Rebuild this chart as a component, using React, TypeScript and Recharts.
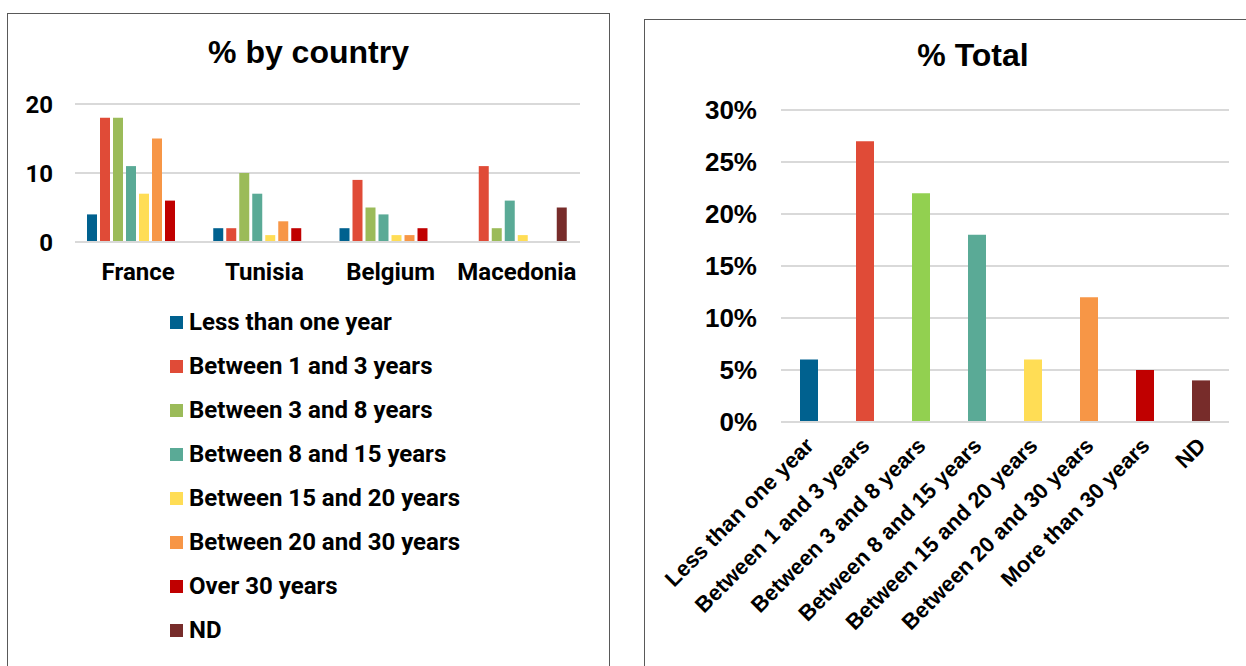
import { BarChart, Bar, XAxis, YAxis, CartesianGrid, Legend, Cell } from 'recharts'

// % by country
const countries = ['France', 'Tunisia', 'Belgium', 'Macedonia']
const lessThanOne = [4, 2, 2, 0]
const between1and3 = [18, 2, 9, 11]
const between3and8 = [18, 10, 5, 2]
const between8and15 = [11, 7, 4, 6]
const between15and20 = [7, 1, 1, 1]
const between20and30 = [15, 3, 1, 0]
const over30 = [6, 2, 2, 0]
const nd = [0, 0, 0, 5]

const seriesNames = [
  'Less than one year',
  'Between 1 and 3 years',
  'Between 3 and 8 years',
  'Between 8 and 15 years',
  'Between 15 and 20 years',
  'Between 20 and 30 years',
  'Over 30 years',
  'ND',
]
const seriesValues = [
  lessThanOne,
  between1and3,
  between3and8,
  between8and15,
  between15and20,
  between20and30,
  over30,
  nd,
]
const countryColors = ['#00618F', '#E04B37', '#9BBB59', '#5AAA96', '#FFDD55', '#F79646', '#C00000', '#772C2A']
const countryTicks = [0, 10, 20]

// % Total
const totalCategories = [
  'Less than one year',
  'Between 1 and 3 years',
  'Between 3 and 8 years',
  'Between 8 and 15 years',
  'Between 15 and 20 years',
  'Between 20 and 30 years',
  'More than 30 years',
  'ND',
]
const totalValues = [6, 27, 22, 18, 6, 12, 5, 4]
const totalColors = ['#00618F', '#E04B37', '#92D050', '#5AAA96', '#FFDD55', '#F79646', '#C00000', '#772C2A']
const totalTicks = [0, 5, 10, 15, 20, 25, 30]

const countryData = countries.map((c, i) => {
  const row: { [key: string]: string | number } = { country: c }
  seriesNames.forEach((name, s) => {
    row[name] = seriesValues[s][i]
  })
  return row
})

const totalData = totalCategories.map((c, i) => ({ name: c, value: totalValues[i] }))

const ROBOTO = 'Roboto, sans-serif'
const ARIAL = '"Liberation Sans", Arial, sans-serif'

function CountryLegend({ payload }: any) {
  // keep the series order, not the alphabetical one
  const items = [...(payload || [])].sort(
    (a: any, b: any) => seriesNames.indexOf(a.value) - seriesNames.indexOf(b.value)
  )
  return (
    <div style={{ fontFamily: ROBOTO, fontWeight: 700, fontSize: 24, color: '#000' }}>
      {items.map((item: any) => (
        <div key={item.value} style={{ display: 'flex', alignItems: 'center', height: 44 }}>
          <span style={{ width: 13, height: 13, background: item.color, marginRight: 6, display: 'inline-block' }} />
          <span>{item.value}</span>
        </div>
      ))}
    </div>
  )
}

function RotatedTick({ x, y, payload }: any) {
  const tx = x + 6
  const ty = y + 17
  return (
    <text
      x={tx}
      y={ty}
      transform={`rotate(-45, ${tx}, ${ty})`}
      textAnchor="end"
      fontFamily={ARIAL}
      fontWeight={700}
      fontSize={22}
      fill="#000"
    >
      {payload.value}
    </text>
  )
}

export default function App() {
  return (
    <div style={{ position: 'absolute', left: 0, top: 0, width: 1246, height: 666, overflow: 'hidden', background: '#fff' }}>
      <div
        style={{
          position: 'absolute',
          left: 7,
          top: 13,
          width: 601,
          height: 670,
          border: '1px solid #595959',
        }}
      >
        <div
          style={{
            position: 'absolute',
            left: 0,
            width: 601,
            top: 20,
            textAlign: 'center',
            fontFamily: ARIAL,
            fontWeight: 700,
            fontSize: 32,
          }}
        >
          % by country
        </div>
        <BarChart
          width={601}
          height={653}
          data={countryData}
          margin={{ top: 90, right: 29, left: 0, bottom: 395 }}
          barCategoryGap={12}
          barGap={3}
        >
          <CartesianGrid vertical={false} stroke="#D9D9D9" strokeWidth={2} />
          <XAxis
            dataKey="country"
            axisLine={{ stroke: '#D9D9D9', strokeWidth: 2 }}
            tickLine={false}
            tickSize={0}
            tickMargin={21}
            tick={{ fontFamily: ROBOTO, fontWeight: 700, fontSize: 24, fill: '#000' }}
          />
          <YAxis
            width={67}
            domain={[0, 20]}
            ticks={countryTicks}
            axisLine={false}
            tickLine={false}
            tickSize={0}
            tickMargin={22}
            tick={{ fontFamily: ROBOTO, fontWeight: 700, fontSize: 24, fill: '#000' }}
          />
          <Legend
            layout="vertical"
            align="center"
            verticalAlign="middle"
            wrapperStyle={{ top: 286, left: 162, width: 360 }}
            content={<CountryLegend />}
          />
          {seriesNames.map((name, i) => (
            <Bar key={name} dataKey={name} name={name} fill={countryColors[i]} isAnimationActive={false} />
          ))}
        </BarChart>
      </div>

      <div
        style={{
          position: 'absolute',
          left: 644,
          top: 19,
          width: 656,
          height: 670,
          border: '1px solid #595959',
        }}
      >
        <div
          style={{
            position: 'absolute',
            left: 0,
            width: 656,
            top: 17,
            textAlign: 'center',
            fontFamily: ARIAL,
            fontWeight: 700,
            fontSize: 32,
          }}
        >
          % Total
        </div>
        <BarChart
          width={602}
          height={647}
          data={totalData}
          margin={{ top: 90, right: 18, left: 0, bottom: 5 }}
          barSize={18}
        >
          <CartesianGrid vertical={false} stroke="#D9D9D9" strokeWidth={2} />
          <XAxis
            dataKey="name"
            interval={0}
            height={240}
            axisLine={{ stroke: '#D9D9D9', strokeWidth: 2 }}
            tickLine={false}
            tick={<RotatedTick />}
          />
          <YAxis
            width={136}
            domain={[0, 30]}
            ticks={totalTicks}
            tickFormatter={(v: number) => `${v}%`}
            axisLine={false}
            tickLine={false}
            tickSize={0}
            tickMargin={24}
            tick={{ fontFamily: ARIAL, fontWeight: 700, fontSize: 26, fill: '#000' }}
          />
          <Bar dataKey="value" isAnimationActive={false}>
            {totalData.map((d, i) => (
              <Cell key={d.name} fill={totalColors[i]} />
            ))}
          </Bar>
        </BarChart>
      </div>
    </div>
  )
}
